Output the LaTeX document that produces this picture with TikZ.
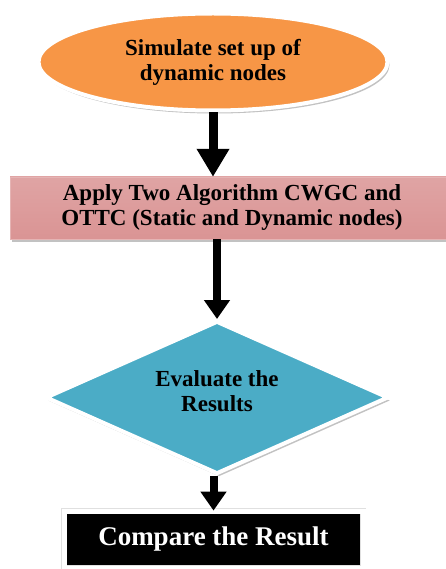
\documentclass[tikz,border=0pt]{standalone}
\usepackage{fontspec}
\setmainfont{Liberation Serif}
\usetikzlibrary{positioning,arrows.meta,shapes.geometric,shadows}
\definecolor{simfill}{RGB}{247,150,70}
\definecolor{evalfill}{RGB}{75,172,198}
\definecolor{applylight}{RGB}{246,226,226}
\definecolor{applydark}{RGB}{218,148,148}

\begin{document}
\begin{tikzpicture}[x=1pt,y=-1pt,on grid,font=\bfseries\fontsize{23}{25}\selectfont]
    \tikzstyle{boxshadow}=[drop shadow={shadow xshift=2pt,shadow yshift=-3pt,fill=black!40,opacity=.6}]
    \tikzstyle{flow}=[line width=8pt,-{Triangle[width=25pt,length=19pt]}]
    \useasboundingbox (0,0) rectangle (446,569);

    \node[ellipse,boxshadow,draw=white,line width=4pt,fill=simfill,minimum width=349pt,minimum height=97pt,align=center] (sim) at (213,62) {Simulate set up of\\dynamic nodes};
    \node[rectangle,boxshadow,draw=applydark!70,thin,top color=applydark!85,middle color=applylight,bottom color=applydark,minimum width=444pt,minimum height=62pt,align=center,below=146pt of sim,xshift=19pt] (apply) {Apply Two Algorithm CWGC and\\OTTC (Static and Dynamic nodes)};
    \node[diamond,shape aspect=2.3,inner sep=0pt,boxshadow,draw=white,line width=4pt,fill=evalfill,minimum width=343pt,minimum height=153pt,align=center,below=189.5pt of apply,xshift=-15pt] (eval) {Evaluate the\\Results\\[-12pt]};
    \node[rectangle,draw=black!12,double=white,double distance=5pt,line width=.8pt,fill=black,text=white,font=\bfseries\fontsize{27}{30}\selectfont,minimum width=299pt,minimum height=57pt,below=142pt of eval,xshift=-3.5pt] (cmp) {Compare the Result};

    \draw[flow,line width=9pt,-{Triangle[width=31pt,length=28pt]}] (sim.south) -- (sim.south |- apply.north);
    \draw[flow] (apply.south -| eval.north) -- (eval.north);
    \draw[flow] (eval.south -| cmp.north) -- (cmp.north);
\end{tikzpicture}
\end{document}
